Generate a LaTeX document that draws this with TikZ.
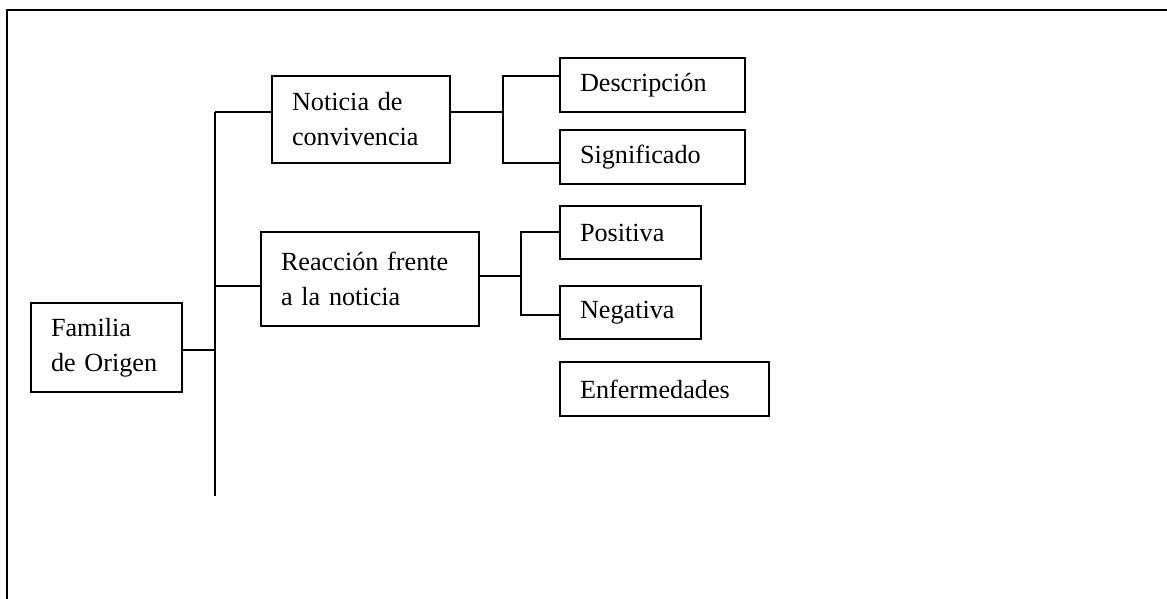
\documentclass[tikz,border=0pt]{standalone}
\usepackage{fontspec}
\setmainfont{Liberation Serif}
\usepackage{tikz}
\usetikzlibrary{calc}

\begin{document}
\begin{tikzpicture}[x=0.5pt,y=-0.5pt,
  caja/.style={draw=black,rectangle,line width=0.8pt,inner xsep=10pt,inner ysep=0pt,align=left,
    font=\fontsize{13.1}{17.5}\selectfont},
  linea/.style={line width=0.9pt}]
  \useasboundingbox (0,0) rectangle (1167,599);
  \draw[linea] (7,599) -- (7,10) -- (1167,10);
  % cajas
  \node[caja,text width=55.5pt,minimum height=44.5pt] (fam) at (106.5,347.5) {Familia\\de Origen};
  \node[caja,text width=69pt,minimum height=43.5pt] (noti) at (361,119.5) {Noticia de\\convivencia};
  \node[caja,text width=89pt,minimum height=47pt] (reac) at (370,279) {Reacción frente\\a la noticia};
  \node[caja,text width=72.5pt,minimum height=27pt] (desc) at (652.5,85) {Descripción};
  \node[caja,text width=72.5pt,minimum height=27pt] (sign) at (652.5,157) {Significado};
  \node[caja,text width=50.5pt,minimum height=26.5pt] (posi) at (630.5,232.5) {Positiva};
  \node[caja,text width=50.5pt,minimum height=26.5pt] (nega) at (630.5,312.5) {Negativa};
  \node[caja,text width=84.5pt,minimum height=27pt] (enfe) at (664.5,389) {Enfermedades};
  % puntos de las ramas
  \coordinate (t1) at (215,112);
  \coordinate (t2) at (215,496);
  \coordinate (tf) at (215,350);
  \coordinate (tr) at (215,286);
  \coordinate (b1) at (503,112);
  \coordinate (b1a) at (503,76);
  \coordinate (b1b) at (503,163);
  \coordinate (b2) at (521,276);
  \coordinate (b2a) at (521,232);
  \coordinate (b2b) at (521,315);
  % lineas
  \draw[linea] (t1) -- (t2);
  \draw[linea] (fam.east |- tf) -- (tf);
  \draw[linea] (t1) -- (t1 -| noti.west);
  \draw[linea] (tr) -- (tr -| reac.west);
  \draw[linea] (b1 -| noti.east) -- (b1);
  \draw[linea] (b1a -| desc.west) -- (b1a) -- (b1b) -- (b1b -| sign.west);
  \draw[linea] (b2 -| reac.east) -- (b2);
  \draw[linea] (b2a -| posi.west) -- (b2a) -- (b2b) -- (b2b -| nega.west);
\end{tikzpicture}
\end{document}
